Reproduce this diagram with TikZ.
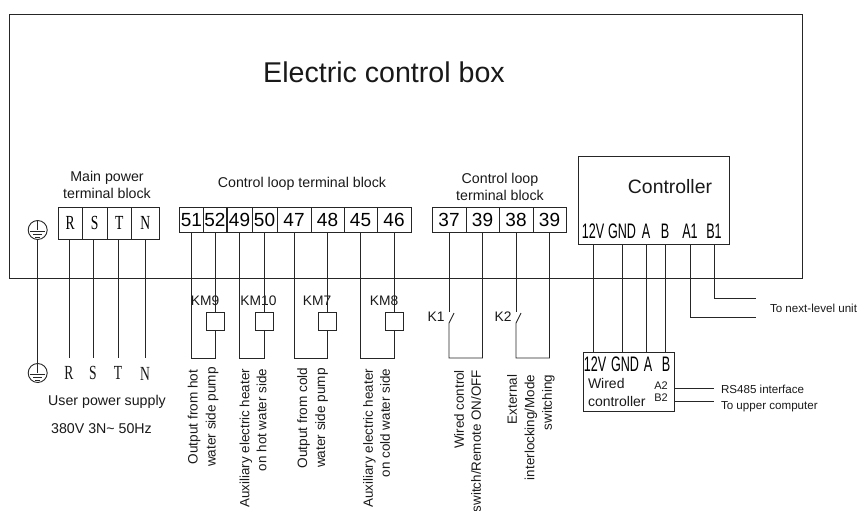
\documentclass[tikz,border=0pt]{standalone}
\usepackage{fontspec}
\setmainfont{Liberation Sans}
\newfontfamily\narrowserif[FakeStretch=0.68]{Liberation Serif}
\newfontfamily\narrowsans[FakeStretch=0.6]{Liberation Sans}
\newcommand{\fsz}[2]{\fontsize{#1}{#2}\selectfont}
\newcommand{\groundsym}[1]{%
  \draw[wire] (#1.north) -- (#1.center);
  \draw[wire] ([xshift=-7.5pt,yshift=-1pt]#1.center) -- ([xshift=7.5pt,yshift=-1pt]#1.center);
  \draw[wire] ([xshift=-4.5pt,yshift=-4pt]#1.center) -- ([xshift=4.5pt,yshift=-4pt]#1.center);
  \draw[wire] ([xshift=-2.5pt,yshift=-7pt]#1.center) -- ([xshift=2.5pt,yshift=-7pt]#1.center);
}
\tikzset{
  x=1pt,y=-1pt,
  wire/.style={draw=black!85,line width=0.9pt},
  plainbox/.style={draw=black!85,line width=0.9pt,rectangle,inner sep=0pt,outer sep=0pt},
  mcell/.style={plainbox,minimum width=24.5pt,minimum height=32pt,text height=13.5pt,text depth=0pt,font=\narrowserif\fsz{20}{22}},
  tcell/.style={plainbox,minimum height=25pt,text height=13.6pt,text depth=0pt,font=\fsz{19}{21}},
  relay/.style={plainbox,minimum width=18pt,minimum height=18pt},
  gnd/.style={draw=black!85,line width=0.9pt,circle,minimum size=19pt,inner sep=0pt,outer sep=0pt},
  txt/.style={inner sep=0pt,outer sep=0pt,text=black!90,font=\fsz{14.2}{17}},
  small/.style={inner sep=0pt,outer sep=0pt,text=black!90,font=\fsz{11.6}{14}},
  km/.style={inner sep=0pt,outer sep=0pt,text=black!90,font=\fsz{13.8}{16}},
  pin/.style={inner sep=0pt,outer sep=0pt,text=black,text height=15pt,text depth=0pt,font=\narrowsans\fsz{21}{23}},
  serif/.style={inner sep=0pt,outer sep=0pt,text=black!90,text height=13.5pt,text depth=0pt,font=\narrowserif\fsz{20}{22}},
  vert/.style={inner sep=0pt,outer sep=0pt,text=black!90,rotate=90,anchor=east,align=right,font=\fsz{13.4}{17}},
  vertc/.style={inner sep=0pt,outer sep=0pt,text=black!90,rotate=90,align=center,font=\fsz{13.6}{18}},
}
\begin{document}
\begin{tikzpicture}
\useasboundingbox (0,0) rectangle (859,511);
% main box
\node[plainbox,minimum width=792.5pt,minimum height=264pt] (box) at (405.75,146) {};
\node[txt,font=\fsz{28.6}{32}] (title) at (384,72) {Electric control box};
% main power
\node[txt,align=center] (mptitle) at (107,184.5) {Main power\\terminal block};
\node[mcell] (mR) at (70.25,223) {R};
\node[mcell] (mS) at (94.75,223) {S};
\node[mcell] (mT) at (119.25,223) {T};
\node[mcell,minimum width=27.5pt] (mN) at (145.25,223) {N};
\node[gnd] (g1) at (37.7,230) {};
\node[gnd] (g2) at (37.7,373) {};
\groundsym{g1}
\groundsym{g2}
\node[serif] (uR) at (69,373) {R};
\node[serif] (uS) at (93,373) {S};
\node[serif] (uT) at (118,373) {T};
\node[serif] (uN) at (145,374) {N};
\coordinate (userTop) at (0,358);
\draw[wire] (g1.south) -- (g2.north);
\foreach \a/\b in {mR/uR,mS/uS,mT/uT,mN/uN} \draw[wire] (\b |- \a.south) -- (\b |- userTop);
\node[txt] (upw) at (107,402) {User power supply};
\node[txt] (volt) at (101.5,429) {380V 3N\textasciitilde{} 50Hz};
% control loop
\node[txt] (cltitle) at (302,184) {Control loop terminal block};
\foreach \n/\x/\w in {51/191.5/23.5,52/215/23.5,49/239.5/25,50/264.5/25,47/294/34,48/327.5/33,45/360.5/33,46/394/34}
  \node[tcell,minimum width=\w pt] (c\n) at (\x,219.5) {\n};
\node[relay] (km9) at (215,321) {};
\node[relay] (km10) at (264,321) {};
\node[relay] (km7) at (327,321) {};
\node[relay] (km8) at (394,321) {};
\node[km] (lkm9) at (205,301) {KM9};
\node[km] (lkm10) at (258.5,301) {KM10};
\node[km] (lkm7) at (317,301) {KM7};
\node[km] (lkm8) at (384,301) {KM8};
\coordinate (bot) at (0,358);
\foreach \p/\q/\r in {51/52/km9,49/50/km10,47/48/km7,45/46/km8}{
  \draw[wire] (\r |- c\q.south) -- (\r.north);
  \draw[wire] (\r.south) -- (\r |- bot) -- (c\p |- bot) -- (c\p.south);
}
\node[vertc] (t1) at (203,417) {Output from hot\\water side pump};
\node[vert] (t2) at (253,369) {Auxiliary electric heater\\on hot water side};
\node[vertc] (t3) at (312.5,418) {Output from cold\\water side pump};
\node[vert] (t4) at (376.5,369) {Auxiliary electric heater\\on cold water side};
% second control loop
\node[txt,align=center] (c2title) at (500,186.5) {Control loop\\terminal block};
\node[tcell,minimum width=34pt] (d37) at (449,219.5) {37};
\node[tcell,minimum width=33pt] (d39) at (482.5,219.5) {39};
\node[tcell,minimum width=34pt] (d38) at (516,219.5) {38};
\node[tcell,minimum width=33pt] (d39b) at (549.5,219.5) {39};
\node[km] (k1) at (436,317) {K1};
\node[km] (k2) at (503,317) {K2};
\coordinate (sw1a) at (449,312);
\coordinate (sw1b) at (449,323);
\coordinate (sw1c) at (454,313);
\coordinate (sw2a) at (516,312);
\coordinate (sw2b) at (516,323);
\coordinate (sw2c) at (521,313);
\draw[wire] (d37.south) -- (sw1a);
\draw[wire] (sw1c) -- (sw1b) -- (sw1b |- bot) -- (d39 |- bot) -- (d39.south);
\draw[wire] (d38.south) -- (sw2a);
\draw[wire] (sw2c) -- (sw2b) -- (sw2b |- bot) -- (d39b |- bot) -- (d39b.south);
\node[vert] (t5) at (467.5,370) {Wired control\\switch/Remote ON/OFF};
\node[vert,font=\fsz{13.4}{17.5}] (t6) at (531,375) {External\\interlocking/Mode\\switching};
% controller
\node[plainbox,minimum width=151pt,minimum height=88pt] (ctl) at (653.5,200) {};
\node[txt,font=\fsz{19.4}{22}] (ctlname) at (670,187) {Controller};
\node[pin] (p12) at (593,231) {12V};
\node[pin] (pG) at (622,231) {GND};
\node[pin] (pA) at (646,231) {A};
\node[pin] (pB) at (665,231) {B};
\node[pin] (pA1) at (690,231) {A1};
\node[pin] (pB1) at (714,231) {B1};
% wired controller
\node[plainbox,minimum width=91pt,minimum height=59pt] (wc) at (628.5,381.5) {};
\node[pin] (q12) at (595,364) {12V};
\node[pin] (qG) at (625,364) {GND};
\node[pin] (qA) at (648,364) {A};
\node[pin] (qB) at (666,364) {B};
\node[txt,anchor=west,font=\fsz{14}{16}] (w1) at (588,383) {Wired};
\node[txt,anchor=west,font=\fsz{14}{16}] (w2) at (588,401) {controller};
\node[small,font=\fsz{11}{13}] (a2) at (661,386) {A2};
\node[small,font=\fsz{11}{13}] (b2) at (661,398) {B2};
\foreach \a in {p12,pG,pA,pB} \draw[wire] (\a |- ctl.south) -- (\a |- wc.north);
\coordinate (nextB) at (756,298);
\coordinate (nextA) at (756,317);
\draw[wire] (pB1 |- ctl.south) |- (nextB);
\draw[wire] (pA1 |- ctl.south) |- (nextA);
\node[small,anchor=west] (next) at (770,308) {To next-level unit};
\coordinate (wcA) at (674,388);
\coordinate (wcB) at (674,401);
\node[small,anchor=west] (rs) at (721,389) {RS485 interface};
\node[small,anchor=west] (up) at (721,407) {To upper computer};
\coordinate (rsEnd) at (714,388);
\coordinate (upEnd) at (714,401);
\draw[wire] (wcA) -- (rsEnd);
\draw[wire] (wcB) -- (upEnd);
\end{tikzpicture}
\end{document}
